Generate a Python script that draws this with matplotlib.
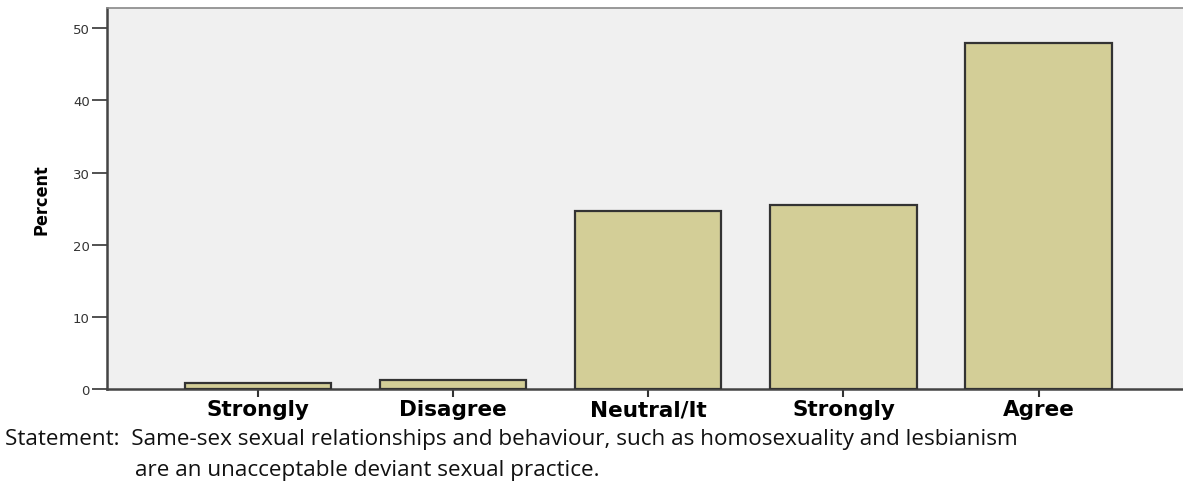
import matplotlib
matplotlib.use("Agg")
import matplotlib.pyplot as plt

categories = ["Strongly", "Disagree", "Neutral/It", "Strongly", "Agree"]
percent = [0.8, 1.3, 24.7, 25.5, 47.9]
yticks = [0, 10, 20, 30, 40, 50]

W, H = 1183, 485
fig = plt.figure(figsize=(W / 100, H / 100), dpi=100)
ax = fig.add_axes([107 / W, 95 / H, (1183 - 107) / W, 381 / H])
ax.set_facecolor("#F0F0F0")

x = list(range(len(categories)))
ax.bar(x, percent, width=0.75, color="#D3CE97", edgecolor="#333333", linewidth=1.6, zorder=3)

ax.set_xlim(-0.774, 4.74)
ax.set_ylim(0, 52.8)
ax.set_xticks(x)
ax.set_xticklabels(categories, fontsize=15.5, fontweight="bold", family="DejaVu Sans")
ax.set_yticks(yticks)
ax.set_yticklabels([str(v) for v in yticks], fontsize=9.5, family="DejaVu Sans", color="#333333")
ax.tick_params(axis="x", direction="out", length=6, width=1.5, color="#333333", pad=1.5)
ax.tick_params(axis="y", direction="out", length=11, width=1.2, color="#333333", pad=1.5)

for s in ("left", "bottom"):
    ax.spines[s].set_color("#444444")
    ax.spines[s].set_linewidth(1.8)
ax.spines["top"].set_color("#888888")
ax.spines["top"].set_linewidth(1.2)
ax.spines["right"].set_visible(False)

ax.set_ylabel("Percent", fontsize=13, fontweight="bold", family="DejaVu Sans",
              fontstretch="condensed", labelpad=16)

fig.text(5 / W, 1 - 445 / H,
         "Statement:  Same-sex sexual relationships and behaviour, such as homosexuality and lesbianism",
         fontsize=16.2, family="Open Sans", va="baseline", ha="left", color="#111111")
fig.text(135 / W, 1 - 476 / H,
         "are an unacceptable deviant sexual practice.",
         fontsize=16.2, family="Open Sans", va="baseline", ha="left", color="#111111")

fig.savefig("out.png", dpi=100)
